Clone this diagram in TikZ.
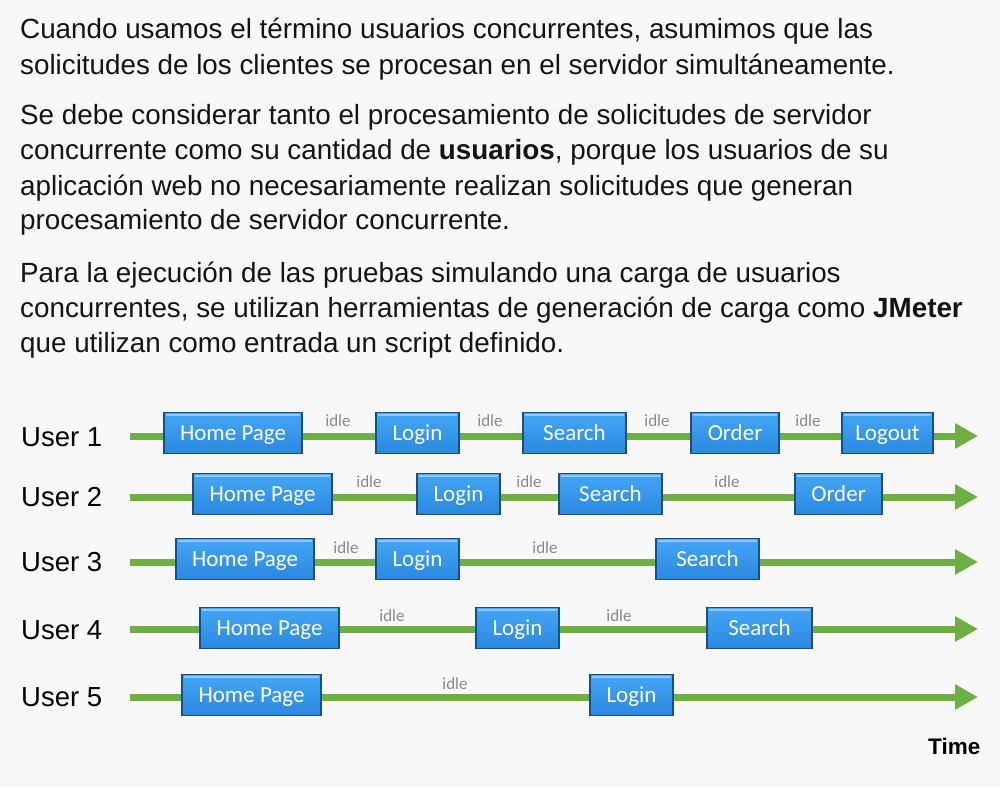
\documentclass[tikz,border=0pt]{standalone}
\usepackage{fontspec}
\setmainfont{Liberation Sans}
\newfontfamily\boxfont{Carlito}
\usetikzlibrary{arrows.meta}
\definecolor{bgcol}{HTML}{F8F8F8}
\definecolor{txtcol}{HTML}{141414}
\definecolor{tlgreen}{HTML}{6DAF42}
\definecolor{boxtop}{HTML}{45A6F5}
\definecolor{boxbot}{HTML}{2A88E0}
\definecolor{boxedge}{HTML}{1B4E86}
\definecolor{boxhi}{HTML}{8CCBFA}
\definecolor{idlecol}{HTML}{8A8A8A}
\tikzset{
  bodytext/.style={anchor=base west, inner sep=0pt, text=txtcol, font=\fontsize{27.8}{30}\selectfont},
  userlabel/.style={anchor=west, inner sep=0pt, text=black, font=\fontsize{27.5}{30}\selectfont},
  timelabel/.style={anchor=west, inner sep=0pt, text=black, font=\fontsize{22.5}{24}\selectfont\bfseries},
  timeline/.style={draw=tlgreen, line width=7pt, -{Triangle[length=23pt,width=24pt]}},
  pbox/.style={draw=boxedge, line width=1.3pt, top color=boxtop, bottom color=boxbot,
     minimum height=41pt, inner sep=0pt, text height=15pt, text depth=0pt,
     text=white, font=\boxfont\fontsize{23}{24}\selectfont,
     path picture={\draw[boxhi, line width=2pt]
        ([xshift=2pt,yshift=-2pt]path picture bounding box.north west) --
        ([xshift=-2pt,yshift=-2pt]path picture bounding box.north east);}},
  idle/.style={inner sep=0pt, text=idlecol, font=\boxfont\fontsize{17}{18}\selectfont}
}
\begin{document}
\begin{tikzpicture}[x=1pt,y=-1pt]
\fill[bgcol] (0,0) rectangle (1000,787);
\useasboundingbox (0,0) rectangle (1000,787);

\node[bodytext] (t1) at (20,38) {Cuando usamos el término usuarios concurrentes, asumimos que las};
\node[bodytext] (t2) at (20,74) {solicitudes de los clientes se procesan en el servidor simultáneamente.};
\node[bodytext] (t3) at (20,124) {Se debe considerar tanto el procesamiento de solicitudes de servidor};
\node[bodytext] (t4) at (20,159) {concurrente como su cantidad de \textbf{usuarios}, porque los usuarios de su};
\node[bodytext] (t5) at (20,195) {aplicación web no necesariamente realizan solicitudes que generan};
\node[bodytext] (t6) at (20,229) {procesamiento de servidor concurrente.};
\node[bodytext] (t7) at (20,282) {Para la ejecución de las pruebas simulando una carga de usuarios};
\node[bodytext] (t8) at (20,317) {concurrentes, se utilizan herramientas de generación de carga como \textbf{JMeter}};
\node[bodytext] (t9) at (20,352) {que utilizan como entrada un script definido.};

% user labels
\node[userlabel] (u1) at (21,437) {User 1};
\node[userlabel] (u2) at (21,497) {User 2};
\node[userlabel] (u3) at (21,562) {User 3};
\node[userlabel] (u4) at (21,630) {User 4};
\node[userlabel] (u5) at (21,697) {User 5};
\node[timelabel] (time) at (928,746) {Time};

% timelines
\coordinate (s1) at (130,436); \coordinate (e1) at (978,436);
\coordinate (s2) at (130,497); \coordinate (e2) at (978,497);
\coordinate (s3) at (130,562); \coordinate (e3) at (978,562);
\coordinate (s4) at (130,629); \coordinate (e4) at (978,629);
\coordinate (s5) at (130,697); \coordinate (e5) at (978,697);
\draw[timeline] (s1) -- (e1);
\draw[timeline] (s2) -- (e2);
\draw[timeline] (s3) -- (e3);
\draw[timeline] (s4) -- (e4);
\draw[timeline] (s5) -- (e5);

% row 1
\node[pbox, minimum width=138pt] (a1) at (233,433) {Home Page};
\node[pbox, minimum width=83pt] (a2) at (417.5,433) {Login};
\node[pbox, minimum width=103pt] (a3) at (574.5,433) {Search};
\node[pbox, minimum width=88pt] (a4) at (735,433) {Order};
\node[pbox, minimum width=91pt] (a5) at (887.5,433) {Logout};
\node[idle] (ai1) at (338,421) {idle};
\node[idle] (ai2) at (490,421) {idle};
\node[idle] (ai3) at (657,421) {idle};
\node[idle] (ai4) at (808,421) {idle};

% row 2
\node[pbox, minimum width=139pt] (b1) at (262.5,494) {Home Page};
\node[pbox, minimum width=83pt] (b2) at (458.5,494) {Login};
\node[pbox, minimum width=103pt] (b3) at (610.5,494) {Search};
\node[pbox, minimum width=87pt] (b4) at (838.5,494) {Order};
\node[idle] (bi1) at (369,482) {idle};
\node[idle] (bi2) at (529,482) {idle};
\node[idle] (bi3) at (727,482) {idle};

% row 3
\node[pbox, minimum width=138pt] (c1) at (245,559) {Home Page};
\node[pbox, minimum width=83pt] (c2) at (417.5,559) {Login};
\node[pbox, minimum width=103pt] (c3) at (707.5,559) {Search};
\node[idle] (ci1) at (346,548) {idle};
\node[idle] (ci2) at (545,548) {idle};

% row 4
\node[pbox, minimum width=139pt] (d1) at (269.5,628) {Home Page};
\node[pbox, minimum width=83pt] (d2) at (517.5,628) {Login};
\node[pbox, minimum width=105pt] (d3) at (759.5,628) {Search};
\node[idle] (di1) at (392,616) {idle};
\node[idle] (di2) at (619,616) {idle};

% row 5
\node[pbox, minimum width=139pt] (f1) at (251.5,695) {Home Page};
\node[pbox, minimum width=83pt] (f2) at (631.5,695) {Login};
\node[idle] (fi1) at (455,684) {idle};
\end{tikzpicture}
\end{document}
